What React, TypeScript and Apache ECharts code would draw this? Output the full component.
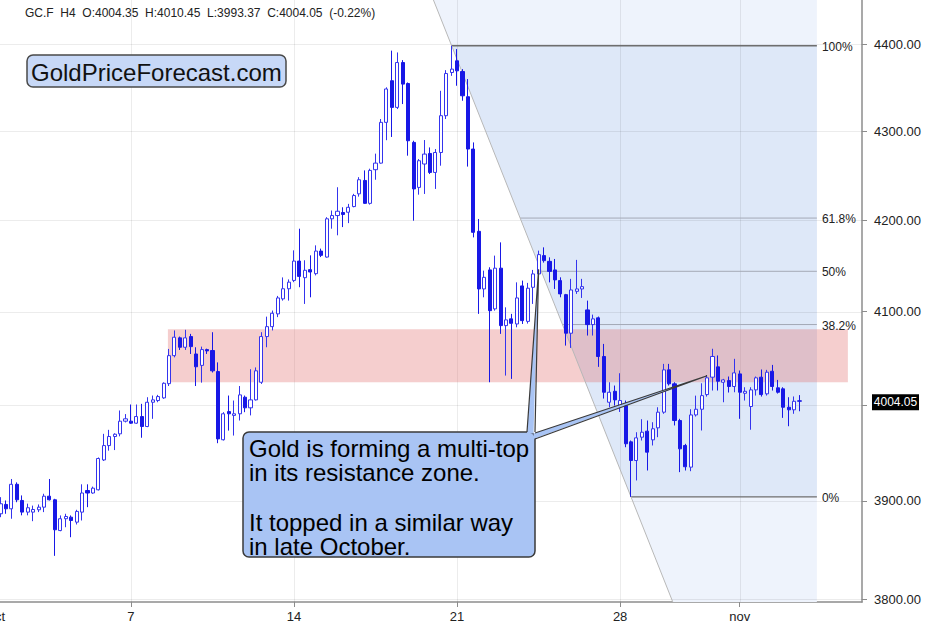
import React, { useEffect, useRef } from 'react';
import * as echarts from 'echarts';

const FONT = '"Liberation Sans", Arial, Helvetica, sans-serif';

// ---- GC.F H4 candles (price) ----
const opens = [
  3886.6, 3896.2, 3891.7, 3917.0, 3900.3, 3888.3, 3888.3, 3890.7, 3893.4, 3904.7,
  3901.0, 3869.4, 3881.5, 3883.1, 3878.0, 3888.3, 3910.6, 3908.0, 3911.3, 3942.3,
  3957.3, 3966.8, 3969.6, 3982.9, 3982.9, 3980.8, 3987.8, 3977.3, 4002.9, 4004.7,
  4007.5, 4022.6, 4052.5, 4071.6, 4061.5, 4073.0, 4054.3, 4042.1, 4059.0, 4058.0,
  4035.5, 3963.4, 3993.0, 3989.0, 3990.7, 4008.2, 3997.0, 4005.4, 4024.1, 4073.0,
  4083.7, 4097.5, 4113.8, 4124.8, 4133.9, 4155.1, 4136.9, 4145.7, 4141.3, 4166.1,
  4159.5, 4201.8, 4205.4, 4208.8, 4209.1, 4215.4, 4229.6, 4244.6, 4219.0, 4256.7,
  4264.1, 4310.3, 4358.0, 4327.4, 4379.0, 4354.8, 4287.5, 4236.8, 4263.1, 4275.0,
  4253.6, 4276.1, 4317.9, 4367.5, 4381.0, 4368.6, 4339.6, 4280.0, 4187.9, 4124.6,
  4145.4, 4102.9, 4147.3, 4084.8, 4092.1, 4086.6, 4127.9, 4089.4, 4126.4, 4141.0,
  4161.1, 4154.8, 4145.4, 4133.7, 4118.4, 4076.6, 4122.0, 4124.6, 4101.8, 4085.9,
  4093.2, 4051.6, 4002.9, 4014.5, 3999.4, 3999.4, 3961.2, 3941.7, 3966.1, 3972.4,
  3963.3, 3975.9, 3992.4, 4037.3, 4022.4, 3983.6, 3957.4, 3934.8, 3989.5, 3995.5,
  4011.0, 4029.5, 4040.5, 4024.1, 4025.9, 4019.6, 4033.0, 4012.4, 3998.4, 4016.0,
  4029.5, 4011.8, 4035.8, 4018.2, 4017.1, 3997.6, 3994.9, 4004.35,
];
const highs = [
  3903.7, 3900.3, 3922.5, 3919.0, 3905.5, 3897.0, 3895.0, 3896.2, 3907.2, 3922.5,
  3902.0, 3884.9, 3886.6, 3884.9, 3890.7, 3917.0, 3917.0, 3914.6, 3944.9, 3969.6,
  3973.8, 3970.2, 3994.2, 3990.4, 4000.5, 4000.5, 4001.2, 4008.2, 4010.0, 4010.7,
  4024.0, 4059.7, 4079.6, 4073.0, 4080.3, 4075.9, 4061.5, 4062.2, 4060.0, 4077.7,
  4045.3, 3992.4, 4010.0, 4004.7, 4020.1, 4010.0, 4038.0, 4039.9, 4077.7, 4094.5,
  4101.1, 4117.0, 4137.2, 4135.0, 4166.9, 4190.8, 4156.0, 4161.4, 4172.4, 4168.8,
  4203.6, 4211.0, 4237.0, 4214.6, 4218.4, 4229.6, 4248.3, 4255.9, 4257.8, 4274.8,
  4314.1, 4350.4, 4392.8, 4390.7, 4381.8, 4356.0, 4289.4, 4268.7, 4290.2, 4281.8,
  4280.0, 4346.4, 4370.2, 4398.5, 4394.6, 4371.4, 4359.9, 4287.5, 4201.6, 4144.6,
  4148.3, 4161.1, 4175.7, 4104.6, 4097.5, 4131.8, 4133.7, 4131.2, 4145.4, 4166.6,
  4170.2, 4159.2, 4157.4, 4137.3, 4119.2, 4135.6, 4156.4, 4135.6, 4111.9, 4096.7,
  4094.6, 4065.1, 4024.1, 4020.6, 4033.7, 4004.7, 3962.6, 3971.3, 3985.0, 3983.6,
  3981.8, 3997.6, 4043.7, 4043.7, 4024.1, 3985.4, 3959.1, 3995.5, 4009.9, 4023.0,
  4031.3, 4059.9, 4052.7, 4027.7, 4030.2, 4049.1, 4036.6, 4018.8, 4018.8, 4030.2,
  4037.7, 4037.3, 4042.6, 4026.6, 4018.8, 4008.2, 4009.0, 4010.45,
];
const lows = [
  3883.1, 3886.6, 3881.5, 3898.5, 3885.0, 3885.0, 3879.0, 3888.3, 3888.3, 3900.3,
  3843.6, 3868.7, 3872.8, 3862.6, 3875.6, 3879.7, 3893.4, 3907.2, 3910.6, 3941.2,
  3952.0, 3952.6, 3967.0, 3981.6, 3980.1, 3980.1, 3965.5, 3976.6, 3985.4, 4002.9,
  4006.5, 4020.1, 4050.7, 4058.6, 4058.6, 4054.3, 4020.1, 4023.7, 4054.3, 4034.5,
  3959.8, 3962.6, 3973.0, 3967.8, 3983.6, 3992.4, 3989.0, 4004.7, 4022.3, 4061.5,
  4079.6, 4094.0, 4111.9, 4111.9, 4132.0, 4126.5, 4108.3, 4115.5, 4139.4, 4159.5,
  4158.9, 4190.8, 4183.5, 4192.6, 4197.0, 4214.6, 4226.5, 4218.4, 4217.6, 4245.4,
  4263.5, 4290.0, 4293.7, 4325.5, 4331.2, 4272.5, 4199.7, 4228.7, 4229.5, 4251.8,
  4235.1, 4261.2, 4314.1, 4363.6, 4352.2, 4335.0, 4260.2, 4181.2, 4097.5, 4115.5,
  4024.1, 4101.0, 4075.9, 4031.2, 4027.7, 4083.0, 4086.6, 4087.0, 4108.3, 4139.2,
  4153.4, 4131.8, 4124.6, 4115.5, 4063.3, 4060.8, 4119.2, 4114.8, 4074.1, 4074.1,
  4040.5, 4006.8, 3997.6, 3999.4, 3992.6, 3955.6, 3904.0, 3921.0, 3962.6, 3931.3,
  3957.4, 3966.1, 3990.7, 4020.6, 3978.4, 3929.6, 3931.3, 3930.6, 3987.8, 3973.1,
  4008.9, 4015.3, 4015.3, 4002.9, 4013.2, 4013.5, 3985.4, 4004.7, 3973.9, 4010.0,
  4008.9, 4010.0, 4015.3, 4012.1, 3986.4, 3977.6, 3990.7, 3993.37,
];
const closes = [
  3896.9, 3891.7, 3917.0, 3901.0, 3888.3, 3892.8, 3891.0, 3893.4, 3904.7, 3901.0,
  3870.2, 3881.5, 3883.8, 3879.7, 3889.0, 3908.0, 3908.0, 3913.0, 3943.8, 3957.3,
  3966.8, 3969.2, 3982.9, 3985.4, 3980.8, 3987.8, 3977.3, 4002.9, 4005.4, 4008.9,
  4023.0, 4052.5, 4072.3, 4061.5, 4071.6, 4062.2, 4040.6, 4059.0, 4057.6, 4036.3,
  3964.3, 3990.7, 3990.7, 3990.7, 4010.7, 3997.0, 4005.4, 4036.3, 4073.0, 4083.7,
  4098.2, 4114.8, 4124.8, 4132.0, 4155.1, 4138.3, 4145.0, 4143.1, 4166.1, 4161.4,
  4201.8, 4205.4, 4210.2, 4206.6, 4214.6, 4227.7, 4245.4, 4219.0, 4255.9, 4264.1,
  4310.3, 4348.5, 4327.4, 4379.0, 4354.1, 4289.4, 4235.1, 4266.8, 4274.3, 4253.6,
  4276.1, 4317.9, 4366.3, 4371.4, 4369.4, 4340.7, 4280.0, 4186.8, 4124.6, 4137.3,
  4101.0, 4147.3, 4084.8, 4091.0, 4087.3, 4114.8, 4090.2, 4125.4, 4141.0, 4162.2,
  4155.6, 4143.8, 4134.5, 4119.2, 4076.6, 4123.5, 4124.6, 4127.1, 4085.9, 4092.1,
  4051.6, 4013.5, 4013.5, 4005.4, 4004.7, 3959.2, 3941.7, 3965.4, 3971.3, 3950.4,
  3974.9, 3992.4, 4037.3, 4022.4, 3983.6, 3953.9, 3935.2, 3989.5, 3995.5, 4009.9,
  4028.8, 4051.6, 4025.2, 4026.6, 4019.6, 4034.1, 4013.5, 4014.5, 4016.0, 4028.8,
  4011.0, 4034.8, 4019.6, 4013.5, 3997.6, 3994.9, 4003.9, 4004.05,
];

// ---- axes ----
const SLOTS = 160; // category slots (one leading empty, trailing empty space)
const xTickSlots = [0, 25, 55, 85, 115, 137];
const xTickLabels = ['Oct', '7', '14', '21', '28', 'nov'];
const priceTicks = [3800, 3900, 4000, 4100, 4200, 4300, 4400];
const priceLabels = [3800, 3900, 4100, 4200, 4300, 4400];
const PRICE_MIN = 3797;
const PRICE_MAX = 4452;

// ---- annotations ----
const fibHighBar = 83;
const fibLowBar = 116;
const fibEndBar = 150.2;
const fibLevels = [0, 0.382, 0.5, 0.618, 1];
const fibLabels = ['0%', '38.2%', '50%', '61.8%', '100%'];
const zoneRange = [4024, 4081];
const zoneBars = [30.8, 155.9];
const calloutTipBars = [99, 130];
const calloutTipPrices = [4146, 4031];
const calloutLines = [
  'Gold is forming a multi-top',
  'in its resistance zone.',
  '',
  'It topped in a similar way',
  'in late October.',
];
const headerText = 'GC.F  H4  O:4004.35  H:4010.45  L:3993.37  C:4004.05  (-0.22%)';

const LN = Math.log;

export default function App() {
  const ref = useRef<HTMLDivElement>(null);

  useEffect(() => {
    const chart = echarts.init(ref.current as HTMLDivElement, null, { renderer: 'svg' });

    const cats: string[] = [];
    const candleData: any[] = [];
    for (let k = 0; k < SLOTS; k++) {
      cats.push(String(k));
      const i = k - 1;
      if (i >= 0 && i < opens.length) {
        candleData.push([LN(opens[i]), LN(closes[i]), LN(lows[i]), LN(highs[i])]);
      } else {
        candleData.push('-');
      }
    }
    const tickSet = new Set(xTickSlots);
    const labelMap: Record<number, string> = {};
    xTickSlots.forEach((k, j) => (labelMap[k] = xTickLabels[j]));

    const fibHigh = highs[fibHighBar];
    const fibLow = lows[fibLowBar];
    const Y_MIN = LN(PRICE_MIN);
    const Y_MAX = LN(PRICE_MAX);

    const helpers = (api: any) => {
      const c0 = api.coord([0, Y_MIN]);
      const c1 = api.coord([1, Y_MIN]);
      const bw = c1[0] - c0[0];
      const slotX = (k: number) => c0[0] + k * bw;
      const barX = (b: number) => slotX(b + 1);
      const yOf = (p: number) => api.coord([0, LN(p)])[1];
      const yTop = api.coord([0, Y_MAX])[1];
      const yBot = c0[1];
      const gridL = c0[0] - bw / 2;
      const gridR = c0[0] + (SLOTS - 0.5) * bw;
      return { bw, slotX, barX, yOf, yTop, yBot, gridL, gridR };
    };

    const renderBack = (_params: any, api: any) => {
      const h = helpers(api);
      const xA = h.barX(fibHighBar);
      const yA = h.yOf(fibHigh);
      const xB = h.barX(fibLowBar);
      const yB = h.yOf(fibLow);
      const diagX = (y: number) => xA + ((y - yA) * (xB - xA)) / (yB - yA);
      const xEnd = h.barX(fibEndBar);
      const children: any[] = [];
      children.push({
        type: 'polygon',
        shape: { points: [[diagX(h.yTop), h.yTop], [xEnd, h.yTop], [xEnd, h.yBot], [diagX(h.yBot), h.yBot]] },
        style: { fill: '#eef3fc' },
      });
      children.push({
        type: 'polygon',
        shape: { points: [[xA, yA], [xEnd, yA], [xEnd, yB], [xB, yB]] },
        style: { fill: '#dee8f8' },
      });
      priceTicks.forEach((p) => {
        const y = Math.round(h.yOf(p)) + 0.5;
        children.push({
          type: 'line',
          shape: { x1: h.gridL, y1: y, x2: h.gridR, y2: y },
          style: { stroke: 'rgba(0,0,0,0.075)', lineWidth: 1 },
        });
      });
      xTickSlots.forEach((k) => {
        const x = Math.round(h.slotX(k)) + 0.5;
        children.push({
          type: 'line',
          shape: { x1: x, y1: h.yTop, x2: x, y2: h.yBot },
          style: { stroke: 'rgba(0,0,0,0.075)', lineWidth: 1 },
        });
      });
      const zx0 = h.barX(zoneBars[0]);
      const zx1 = h.barX(zoneBars[1]);
      const zy0 = h.yOf(zoneRange[1]);
      const zy1 = h.yOf(zoneRange[0]);
      children.push({
        type: 'rect',
        shape: { x: zx0, y: zy0, width: zx1 - zx0, height: zy1 - zy0 },
        style: { fill: 'rgba(226,110,110,0.34)' },
      });
      fibLevels.forEach((f, j) => {
        const lnL = LN(fibLow) + f * (LN(fibHigh) - LN(fibLow));
        const y = api.coord([0, lnL])[1];
        const strong = f === 0 || f === 1;
        children.push({
          type: 'line',
          shape: { x1: diagX(y), y1: y, x2: xEnd, y2: y },
          style: { stroke: strong ? '#6e6e6e' : '#a4a9b6', lineWidth: strong ? 1.3 : 1 },
        });
        children.push({
          type: 'text',
          style: {
            text: fibLabels[j],
            x: xEnd + 5,
            y: y + 1,
            fill: '#222',
            fontSize: 12,
            fontFamily: FONT,
            align: 'left',
            verticalAlign: 'middle',
          },
        });
      });
      children.push({
        type: 'line',
        shape: { x1: diagX(h.yTop), y1: h.yTop, x2: diagX(h.yBot), y2: h.yBot },
        style: { stroke: '#b8b8b8', lineWidth: 1 },
      });
      return { type: 'group', children };
    };

    const renderFront = (_params: any, api: any) => {
      const h = helpers(api);
      const t1 = api.coord([calloutTipBars[0] + 1, LN(calloutTipPrices[0])]);
      const t2 = api.coord([calloutTipBars[1] + 1, LN(calloutTipPrices[1])]);
      const bx = 243, by = 432, bW = 292, bH = 125;
      const fill = '#a9c4f4';
      const stroke = '#3a3a3a';
      const children: any[] = [];
      children.push({
        type: 'rect',
        shape: { x: bx, y: by, width: bW, height: bH, r: 6 },
        style: { fill, stroke, lineWidth: 1.5 },
      });
      const p1a = [bx + bW - 8, by + 1.5];
      const p1b = [bx + bW - 1.5, by + 1.5];
      const p2a = [bx + bW - 1.5, by + 1.5];
      const p2b = [bx + bW - 1.5, by + 7];
      children.push({ type: 'polygon', shape: { points: [p1a, p1b, t1] }, style: { fill } });
      children.push({ type: 'polygon', shape: { points: [p2a, p2b, t2] }, style: { fill } });
      children.push({ type: 'polyline', shape: { points: [[p1a[0], by], t1, [p1b[0] + 1.5, by]] }, style: { stroke, lineWidth: 1.2, fill: null } });
      children.push({ type: 'polyline', shape: { points: [[bx + bW, by + 1], t2, [bx + bW, p2b[1]]] }, style: { stroke, lineWidth: 1.2, fill: null } });
      children.push({
        type: 'text',
        style: {
          text: calloutLines.join('\n'),
          x: bx + 6,
          y: by + 4,
          fill: '#000',
          fontSize: 24,
          fontFamily: FONT,
          lineHeight: 24.6,
          align: 'left',
          verticalAlign: 'top',
        },
      });
      // last price tag on the axis
      const last = closes[closes.length - 1];
      const yL = h.yOf(last);
      const tx = h.gridR + 10;
      children.push({
        type: 'rect',
        shape: { x: tx, y: yL - 7, width: 47, height: 16 },
        style: { fill: '#000' },
      });
      children.push({
        type: 'text',
        style: {
          text: last.toFixed(2),
          x: tx + 23.5,
          y: yL + 1,
          fill: '#fff',
          fontSize: 12,
          fontFamily: FONT,
          align: 'center',
          verticalAlign: 'middle',
        },
      });
      return { type: 'group', children };
    };

    const option: any = {
      animation: false,
      backgroundColor: '#ffffff',
      grid: { left: -7.65, right: 83, top: 0, bottom: 25, containLabel: false, outerBoundsMode: 'none' },
      xAxis: {
        type: 'category',
        data: cats,
        boundaryGap: true,
        axisLine: { show: true, onZero: false, lineStyle: { color: '#8c8c8c', width: 1.5 } },
        axisTick: {
          show: true,
          interval: (i: number) => tickSet.has(i),
          alignWithLabel: true,
          length: 5,
          lineStyle: { color: '#8c8c8c' },
        },
        axisLabel: {
          interval: (i: number) => tickSet.has(i),
          formatter: (v: string) => labelMap[Number(v)] ?? '',
          color: '#222',
          fontSize: 13,
          fontFamily: FONT,
          margin: 8,
        },
        splitLine: { show: false },
      },
      yAxis: {
        type: 'value',
        position: 'right',
        min: Y_MIN,
        max: Y_MAX,
        scale: true,
        axisLine: { show: true, lineStyle: { color: '#8c8c8c', width: 1.5 } },
        axisTick: {
          show: true,
          customValues: priceTicks.map(LN),
          length: 5,
          lineStyle: { color: '#8c8c8c' },
        },
        axisLabel: {
          customValues: priceLabels.map(LN),
          formatter: (v: number) => Math.exp(v).toFixed(2),
          color: '#222',
          fontSize: 13,
          fontFamily: FONT,
          margin: 12,
        },
        splitLine: { show: false },
      },
      graphic: [
        {
          type: 'text',
          x: 25,
          y: 13,
          z: 20,
          style: { text: headerText, fill: '#222', fontSize: 12, fontFamily: FONT, verticalAlign: 'middle' },
        },
        {
          type: 'rect',
          z: 20,
          shape: { x: 27, y: 55, width: 259, height: 32, r: 6 },
          style: { fill: '#c7d8f7', stroke: '#4a4a4a', lineWidth: 1.5 },
        },
        {
          type: 'text',
          z: 21,
          x: 31,
          y: 72,
          style: { text: 'GoldPriceForecast.com', fill: '#111', fontSize: 24, fontFamily: FONT, verticalAlign: 'middle' },
        },
      ],
      series: [
        {
          type: 'custom',
          renderItem: renderBack,
          data: [[0, Y_MIN]],
          z: 1,
          silent: true,
          clip: false,
        },
        {
          type: 'candlestick',
          data: candleData,
          z: 2,
          silent: true,
          barWidth: 3.6,
          itemStyle: {
            color: '#ffffff',
            color0: '#1818e6',
            borderColor: '#3434ee',
            borderColor0: '#1818e6',
            borderWidth: 1,
          },
        },
        {
          type: 'custom',
          renderItem: renderFront,
          data: [[0, Y_MIN]],
          z: 5,
          silent: true,
          clip: false,
        },
      ],
    };

    chart.setOption(option);
    return () => chart.dispose();
  }, []);

  return (
    <div
      ref={ref}
      style={{ position: 'fixed', left: 0, top: 0, width: 945, height: 627, background: '#fff' }}
    />
  );
}
